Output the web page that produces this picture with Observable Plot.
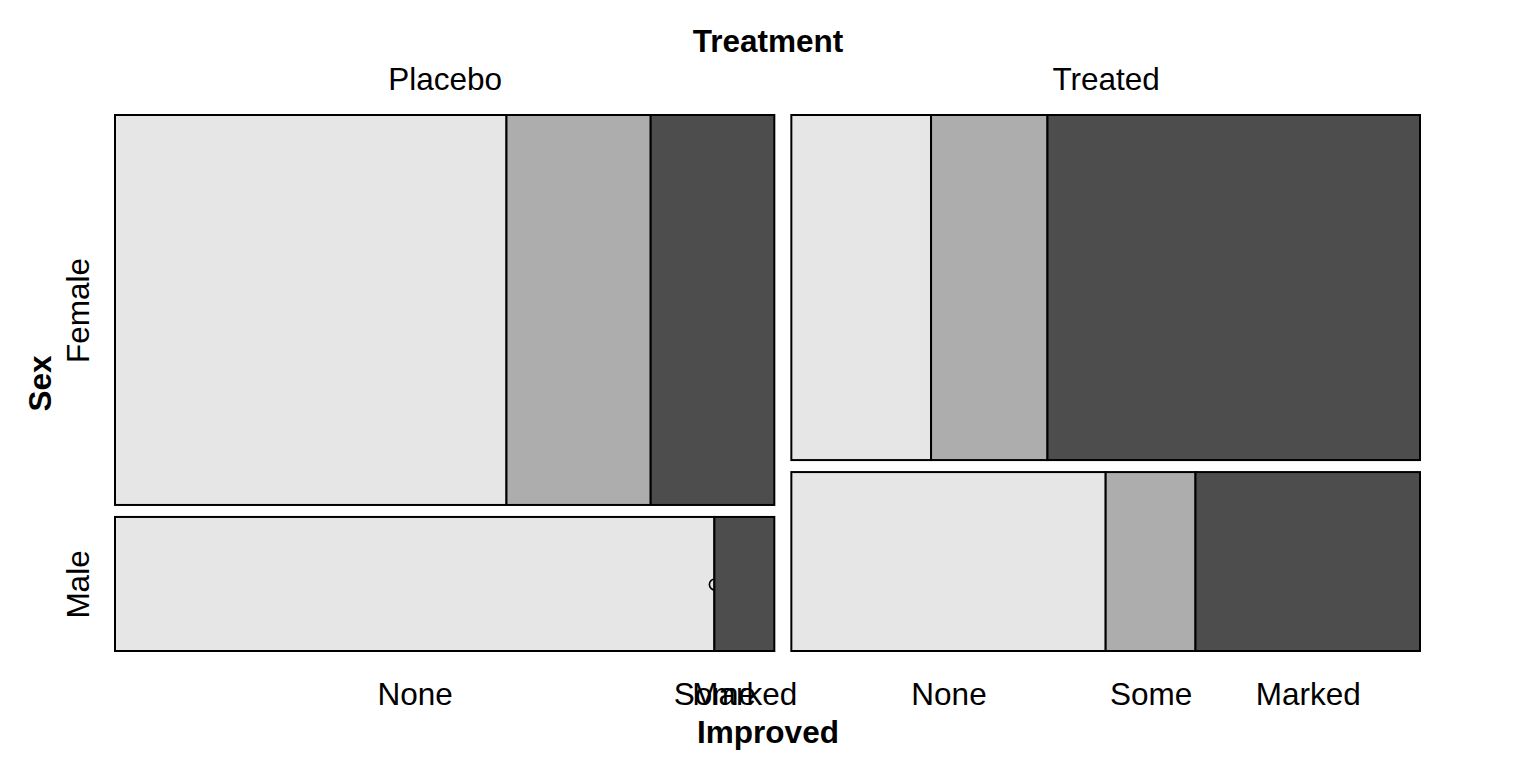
<!DOCTYPE html>
<html>
<head>
<meta charset="utf-8">
<script src="https://cdn.jsdelivr.net/npm/d3@7"></script>
<script src="https://cdn.jsdelivr.net/npm/@observablehq/plot@0.6"></script>
<style>
  html, body { margin: 0; padding: 0; background: #ffffff; }
  svg { display: block; }
</style>
</head>
<body>
<div id="chart"></div>
<script>
// ---- data (Arthritis: Treatment x Sex x Improved) ----
const treatments = ["Placebo", "Treated"];
const sexes = ["Female", "Male"];
const improved = ["None", "Some", "Marked"];
const placeboFemale = [19, 7, 6];
const placeboMale = [10, 0, 1];
const treatedFemale = [6, 5, 16];
const treatedMale = [7, 2, 5];
const fills = ["#E6E6E6", "#ADADAD", "#4D4D4D"];

const counts = [[placeboFemale, placeboMale], [treatedFemale, treatedMale]];

// spacing between tiles (in scale units)
const gapX = 1.11;
const gapY = 0.0229;

// ---- build tiles ----
const cells = [];
const colLabels = [];
const rowLabels = [];
const bottomLabels = [];
let xStart = 0;
counts.forEach((bySex, ti) => {
  const tTotal = d3.sum(bySex.flat());
  colLabels.push({label: treatments[ti], x: xStart + tTotal / 2});
  let yStart = 0;
  bySex.forEach((vals, si) => {
    const sTotal = d3.sum(vals);
    const h = sTotal / tTotal;
    if (ti === 0) rowLabels.push({label: sexes[si], y: yStart + h / 2});
    let cum = 0;
    vals.forEach((v, k) => {
      const x1 = xStart + tTotal * cum / sTotal;
      const x2 = xStart + tTotal * (cum + v) / sTotal;
      cells.push({treatment: treatments[ti], sex: sexes[si], improved: improved[k], k, n: v,
                  x1, x2, y1: yStart, y2: yStart + h, fill: fills[k]});
      if (si === bySex.length - 1) bottomLabels.push({label: improved[k], x: (x1 + x2) / 2});
      cum += v;
    });
    yStart += h + gapY;
  });
  xStart += tTotal + gapX;
});
const xMax = xStart - gapX;
const yMax = 1 + gapY;

const font = "Liberation Sans, Arial, Helvetica, sans-serif";
const fs = 31.5;

const plot = Plot.plot({
  width: 1536,
  height: 768,
  marginLeft: 115,
  marginRight: 116,
  marginTop: 115,
  marginBottom: 117,
  style: {fontFamily: font, background: "#ffffff"},
  x: {domain: [0, xMax], axis: null},
  y: {domain: [0, yMax], reverse: true, axis: null},
  marks: [
    Plot.rect(cells.filter(d => d.n > 0 && d.k < 2), {x1: "x1", x2: "x2", y1: "y1", y2: "y2", fill: "fill", stroke: "black", strokeWidth: 2}),
    Plot.dot(cells.filter(d => d.n === 0), {x: "x1", y: d => (d.y1 + d.y2) / 2, r: 5.5, stroke: "black", strokeWidth: 1.6, fill: "none"}),
    Plot.rect(cells.filter(d => d.n > 0 && d.k >= 2), {x1: "x1", x2: "x2", y1: "y1", y2: "y2", fill: "fill", stroke: "black", strokeWidth: 2}),
    // top labels
    Plot.text(colLabels, {x: "x", y: () => 0, text: "label", dy: -36, fontSize: fs, fill: "black"}),
    Plot.text(["Treatment"], {x: () => xMax / 2, y: () => 0, text: d => d, dy: -74, fontSize: fs, fontWeight: "bold", fill: "black"}),
    // left labels
    Plot.text(rowLabels, {x: () => 0, y: "y", text: "label", dx: -37, rotate: -90, fontSize: fs, fill: "black"}),
    Plot.text(["Sex"], {x: () => 0, y: () => yMax / 2, text: d => d, dx: -75, rotate: -90, fontSize: fs, fontWeight: "bold", fill: "black"}),
    // bottom labels
    Plot.text(bottomLabels, {x: "x", y: () => yMax, text: "label", dy: 43, fontSize: fs, fill: "black"}),
    Plot.text(["Improved"], {x: () => xMax / 2, y: () => yMax, text: d => d, dy: 81, fontSize: fs, fontWeight: "bold", fill: "black"})
  ]
});
document.getElementById("chart").append(plot);
</script>
</body>
</html>
